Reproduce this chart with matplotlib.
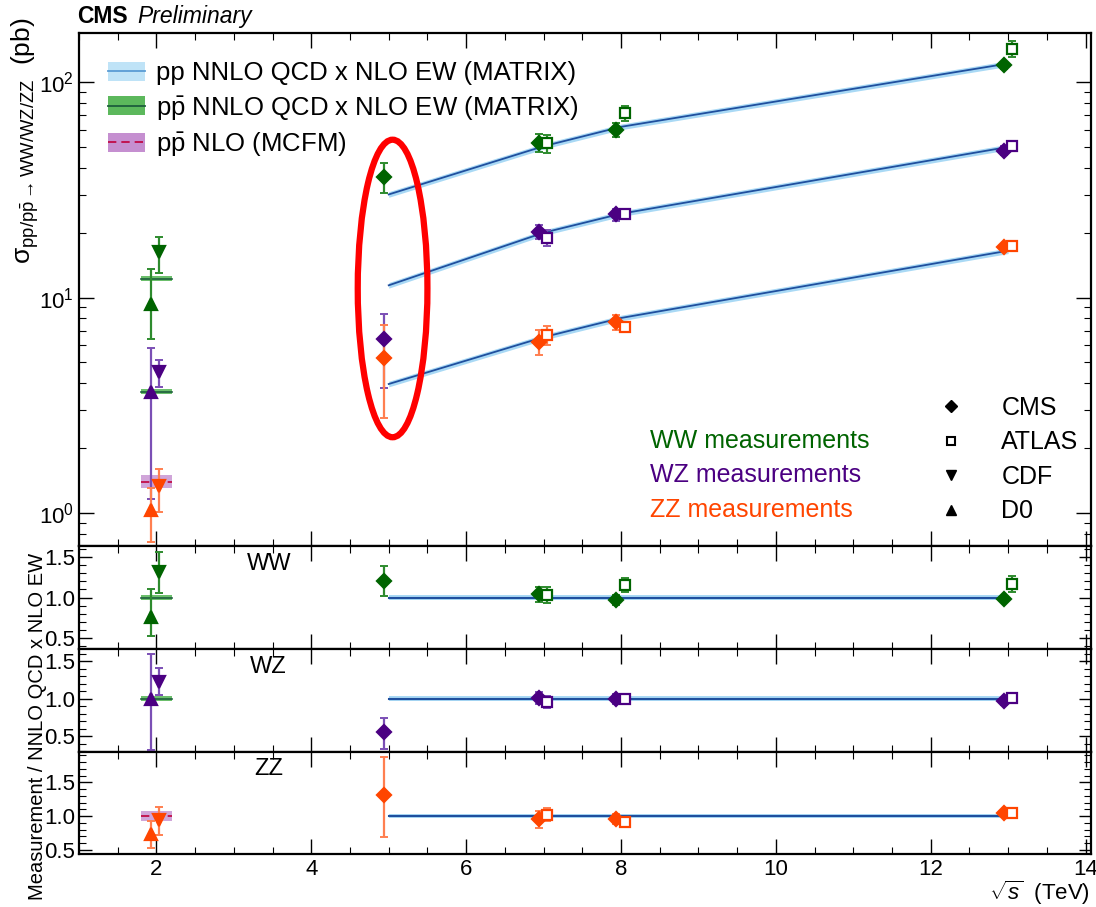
"""Summary of diboson cross sections vs sqrt(s) with ratio panels."""

import numpy as np
import matplotlib
matplotlib.use("Agg")
import matplotlib.pyplot as plt
import matplotlib.transforms as mtransforms
from matplotlib.lines import Line2D
from matplotlib.patches import Patch, Ellipse
from matplotlib.ticker import MultipleLocator, LogLocator, NullFormatter, FormatStrFormatter

plt.rcParams["font.family"] = ["Liberation Sans", "DejaVu Sans"]
plt.rcParams["mathtext.fontset"] = "custom"
plt.rcParams["mathtext.rm"] = "Liberation Sans"
plt.rcParams["mathtext.it"] = "Liberation Sans:italic"
plt.rcParams["mathtext.bf"] = "Liberation Sans:bold"

# ---- data (pb) ----
lhc_energies = [5, 7, 8, 13]
ww_theory = [30.1, 50.4, 62.0, 122.0]
wz_theory = [11.4, 20.0, 24.5, 50.0]
zz_theory = [3.97, 6.55, 8.04, 16.5]
tev_energy = 1.96
ww_tev_theory = 12.25
wz_tev_theory = 3.66
zz_tev_mcfm = 1.40

cms_energies = [5, 7, 8, 13]
ww_cms = [36.4, 52.4, 60.1, 119.5]
ww_cms_lo = [5.7, 4.8, 4.2, 4.0]
ww_cms_hi = [5.5, 4.8, 4.2, 4.0]
wz_cms = [6.4, 20.2, 24.3, 48.1]
wz_cms_lo = [2.6, 1.6, 1.6, 2.2]
wz_cms_hi = [2.0, 1.6, 1.6, 2.2]
zz_cms = [5.24, 6.24, 7.7, 17.2]
zz_cms_lo = [2.47, 0.85, 0.6, 0.6]
zz_cms_hi = [2.2, 0.85, 0.6, 0.6]

atlas_energies = [7, 8, 13]
ww_atlas = [51.9, 71.6, 143.0]
ww_atlas_err = [5.0, 5.5, 12.0]
wz_atlas = [19.0, 24.3, 50.6]
wz_atlas_err = [1.6, 1.0, 1.5]
zz_atlas = [6.7, 7.3, 17.3]
zz_atlas_err = [0.65, 0.4, 0.6]

ww_d0, ww_d0_lo, ww_d0_hi = 9.3, 2.9, 4.3
wz_d0, wz_d0_lo, wz_d0_hi = 3.66, 2.5, 2.15
zz_d0, zz_d0_lo, zz_d0_hi = 1.03, 0.30, 0.27
ww_cdf, ww_cdf_lo, ww_cdf_hi = 16.2, 3.2, 3.0
wz_cdf, wz_cdf_lo, wz_cdf_hi = 4.49, 0.65, 0.65
zz_cdf, zz_cdf_lo, zz_cdf_hi = 1.33, 0.32, 0.27

THEORY_REL = 0.03
MCFM_REL = 0.07

# ---- styles ----
COLORS = {"WW": ("#006400", "#2e8b2e"),
          "WZ": ("#4b0082", "#7b4fb5"),
          "ZZ": ("#ff4500", "#ff7f50")}
LINE_BLUE = "#1f4f9e"
BAND_BLUE = "#a9d9f5"
TEV_GREEN_BAND = "#5cb85c"
TEV_GREEN_LINE = "#1d5e3c"
MCFM_BAND = "#c58fd0"
MCFM_LINE = "#c0003c"
DX = {"CMS": -0.06, "ATLAS": 0.05, "D0": -0.03, "CDF": 0.07}

procs = [
    ("WW", ww_theory, ww_tev_theory, ww_cms, ww_cms_lo, ww_cms_hi,
     ww_atlas, ww_atlas_err, (ww_d0, ww_d0_lo, ww_d0_hi), (ww_cdf, ww_cdf_lo, ww_cdf_hi)),
    ("WZ", wz_theory, wz_tev_theory, wz_cms, wz_cms_lo, wz_cms_hi,
     wz_atlas, wz_atlas_err, (wz_d0, wz_d0_lo, wz_d0_hi), (wz_cdf, wz_cdf_lo, wz_cdf_hi)),
    ("ZZ", zz_theory, zz_tev_mcfm, zz_cms, zz_cms_lo, zz_cms_hi,
     zz_atlas, zz_atlas_err, (zz_d0, zz_d0_lo, zz_d0_hi), (zz_cdf, zz_cdf_lo, zz_cdf_hi)),
]

W, H = 1096, 907
L, R = 79 / W, 1091 / W


def rect(top, bot):
    return [L, 1 - bot / H, R - L, (bot - top) / H]


fig = plt.figure(figsize=(W / 100, H / 100), dpi=100)
ax = fig.add_axes(rect(33, 546))
rax = [fig.add_axes(rect(546, 649), sharex=ax),
       fig.add_axes(rect(649, 752), sharex=ax),
       fig.add_axes(rect(752, 854), sharex=ax)]


def points(a, x, y, lo, hi, marker, color, ecolor, ms, filled=True):
    a.errorbar(x, y, yerr=[lo, hi], fmt="none", ecolor=ecolor, elinewidth=1.6,
               capsize=3, capthick=1.4, zorder=4)
    a.plot(x, y, ls="none", marker=marker, ms=ms, color=color,
           mfc=color if filled else "white", mec=color, mew=1.6, zorder=5)


def tev_band(a, y, kind, rel):
    xs = [1.8, 2.2]
    if kind == "mcfm":
        a.fill_between(xs, y * (1 - rel), y * (1 + rel), color=MCFM_BAND, alpha=0.8, lw=0, zorder=2)
        a.plot(xs, [y, y], color=MCFM_LINE, ls=(0, (5, 3)), lw=1.2, zorder=3)
    else:
        a.fill_between(xs, y * (1 - rel), y * (1 + rel), color=TEV_GREEN_BAND, alpha=0.9, lw=0, zorder=2)
        a.plot(xs, [y, y], color=TEV_GREEN_LINE, lw=1.2, zorder=3)


for i, (name, th, tev_th, cms, cms_lo, cms_hi, atl, atl_err, d0, cdf) in enumerate(procs):
    col, ecol = COLORS[name]
    th = np.array(th)
    # main panel
    ax.fill_between(lhc_energies, th * (1 - THEORY_REL), th * (1 + THEORY_REL),
                    color=BAND_BLUE, lw=0, zorder=2)
    ax.plot(lhc_energies, th, color=LINE_BLUE, lw=1.3, zorder=3)
    tev_band(ax, tev_th, "mcfm" if name == "ZZ" else "nnlo", MCFM_REL if name == "ZZ" else THEORY_REL)
    cx = np.array(cms_energies) + DX["CMS"]
    axx = np.array(atlas_energies) + DX["ATLAS"]
    points(ax, cx, cms, cms_lo, cms_hi, "D", col, ecol, 7)
    points(ax, axx, atl, atl_err, atl_err, "s", col, ecol, 7, filled=False)
    points(ax, [tev_energy + DX["D0"]], [d0[0]], [d0[1]], [d0[2]], "^", col, ecol, 8)
    points(ax, [tev_energy + DX["CDF"]], [cdf[0]], [cdf[1]], [cdf[2]], "v", col, ecol, 8)

    # ratio panel
    r = rax[i]
    r.fill_between([lhc_energies[0], lhc_energies[-1]], 1 - THEORY_REL, 1 + THEORY_REL,
                   color=BAND_BLUE, lw=0, zorder=2)
    r.plot([lhc_energies[0], lhc_energies[-1]], [1, 1], color=LINE_BLUE, lw=1.5, zorder=3)
    tev_band(r, 1.0, "mcfm" if name == "ZZ" else "nnlo", MCFM_REL if name == "ZZ" else THEORY_REL)
    th_c = np.interp(cms_energies, lhc_energies, th)
    th_a = np.interp(atlas_energies, lhc_energies, th)
    points(r, cx, np.array(cms) / th_c, np.array(cms_lo) / th_c, np.array(cms_hi) / th_c,
           "D", col, ecol, 7)
    points(r, axx, np.array(atl) / th_a, np.array(atl_err) / th_a, np.array(atl_err) / th_a,
           "s", col, ecol, 7, filled=False)
    points(r, [tev_energy + DX["D0"]], [d0[0] / tev_th], [d0[1] / tev_th], [d0[2] / tev_th],
           "^", col, ecol, 8)
    points(r, [tev_energy + DX["CDF"]], [cdf[0] / tev_th], [cdf[1] / tev_th], [cdf[2] / tev_th],
           "v", col, ecol, 8)
    blend = mtransforms.blended_transform_factory(r.transData, r.transAxes)
    r.text(3.45, 0.83, name, transform=blend, fontsize=17, ha="center", va="center")

# ---- axes styling ----
ax.set_yscale("log")
ax.set_xlim(1, 14.07)
ax.set_ylim(0.703, 169)
ax.yaxis.set_major_locator(LogLocator(base=10, numticks=10))
ax.yaxis.set_minor_locator(LogLocator(base=10, subs=np.arange(2, 10), numticks=20))
ax.yaxis.set_minor_formatter(NullFormatter())
rax[0].set_ylim(0.36, 1.64)
rax[1].set_ylim(0.29, 1.66)
rax[2].set_ylim(0.44, 1.95)
for a in [ax] + rax:
    a.xaxis.set_major_locator(MultipleLocator(2))
    a.xaxis.set_minor_locator(MultipleLocator(0.5))
    a.tick_params(which="both", direction="in", top=True, right=True, labelsize=16)
    a.tick_params(which="major", length=11, width=1.0)
    a.tick_params(which="minor", length=5, width=0.8)
    for s in a.spines.values():
        s.set_linewidth(1.6)
    if a is not rax[-1]:
        a.tick_params(labelbottom=False)
for r in rax:
    r.yaxis.set_major_locator(MultipleLocator(0.5))
    r.yaxis.set_minor_locator(MultipleLocator(0.1))
    r.yaxis.set_major_formatter(FormatStrFormatter("%.1f"))
    r.tick_params(axis="y", which="major", length=9, pad=3)

ax.set_ylabel(r"σ$_{\mathrm{pp/p\bar{p}}\rightarrow\mathrm{WW/WZ/ZZ}}$  (pb)",
              loc="top", fontsize=19)
ax.yaxis.set_label_coords(-0.038, 1.03)
rax[-1].set_xlabel(r"$\sqrt{s}$  (TeV)", loc="right", fontsize=16)
rax[-1].xaxis.set_label_coords(0.999, -0.245)
fig.text(0.034, 1 - 726 / H, "Measurement / NNLO QCD x NLO EW", rotation=90,
         ha="center", va="center", fontsize=14.5)
fig.text(L - 0.002, 1 - 28 / H, "CMS", fontsize=16.5, fontweight="bold", va="bottom")
fig.text(0.125, 1 - 28 / H, "Preliminary", fontsize=16.5, fontstyle="italic", va="bottom")

# theory legend
theory_handles = [
    (Patch(fc="#bfe3f7", ec="none"), Line2D([], [], color="#5a9bd4", lw=1.3)),
    (Patch(fc=TEV_GREEN_BAND, ec="none"), Line2D([], [], color=TEV_GREEN_LINE, lw=1.3)),
    (Patch(fc=MCFM_BAND, ec="none"), Line2D([], [], color=MCFM_LINE, lw=1.2, ls=(0, (5, 3)))),
]
theory_labels = ["pp NNLO QCD x NLO EW (MATRIX)",
                 r"p$\mathrm{\bar{p}}$ NNLO QCD x NLO EW (MATRIX)",
                 r"p$\mathrm{\bar{p}}$ NLO (MCFM)"]
leg1 = ax.legend(theory_handles, theory_labels, loc="upper left", bbox_to_anchor=(0.006, 0.99),
                 fontsize=18.5, frameon=False, handlelength=1.45, handleheight=0.75,
                 labelspacing=0.33, handletextpad=0.4)
ax.add_artist(leg1)

# experiment legend
exp_handles = [Line2D([], [], ls="none", marker="D", ms=6, color="k"),
               Line2D([], [], ls="none", marker="s", ms=6, mfc="white", mec="k", mew=1.5),
               Line2D([], [], ls="none", marker="v", ms=7, color="k"),
               Line2D([], [], ls="none", marker="^", ms=7, color="k")]
ax.legend(exp_handles, ["CMS", "ATLAS", "CDF", "D0"], loc="lower right",
          bbox_to_anchor=(1.01, 0.0), fontsize=18, frameon=False,
          labelspacing=0.42, handletextpad=1.0)

for k, name in enumerate(["WW", "WZ", "ZZ"]):
    ax.text(0.564, 0.205 - 0.0675 * k, f"{name} measurements", transform=ax.transAxes,
            fontsize=18, color=COLORS[name][0], va="center")

# highlighted 5 TeV region
blend = mtransforms.blended_transform_factory(ax.transData, ax.transAxes)
ax.add_patch(Ellipse((5.05, 0.502), 0.9, 0.58, transform=blend, fill=False,
                     ec="red", lw=4.5, zorder=6, clip_on=False))

fig.savefig("out.png", dpi=100)
